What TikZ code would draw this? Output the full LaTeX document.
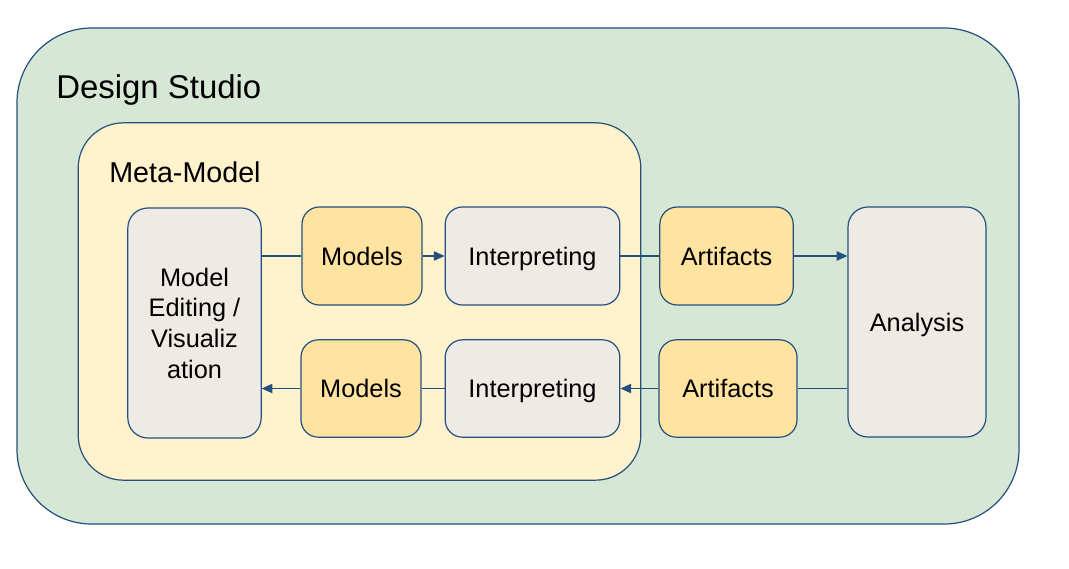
\documentclass[tikz,border=0pt]{standalone}
\usepackage{fontspec}
\setmainfont{Liberation Sans}
\usepackage{xcolor}
\usetikzlibrary{arrows.meta}
\definecolor{studiogreen}{HTML}{D6E8D5}
\definecolor{metayellow}{HTML}{FFF2CC}
\definecolor{dataorange}{HTML}{FFE3A0}
\definecolor{toolgrey}{HTML}{EEEBE4}
\definecolor{edgeblue}{HTML}{23507F}

\begin{document}
\begin{tikzpicture}[x=0.75pt,y=-0.75pt]
\tikzstyle{every node}+=[inner sep=0pt]
\tikzstyle{box}=[draw=edgeblue,line width=0.9pt,rounded corners=13pt,align=center,font=\fontsize{19}{23}\selectfont,text height=13.7pt,text depth=0pt]
\tikzstyle{tool}=[box,fill=toolgrey]
\tikzstyle{data}=[box,fill=dataorange]
\tikzstyle{link}=[draw=edgeblue,line width=0.9pt]
\tikzstyle{flow}=[link,-{Triangle[length=8pt,width=7pt]}]
\useasboundingbox (0,0) rectangle (1069,568);
% containers
\node [box,fill=studiogreen,rounded corners=56pt,minimum width=751.5pt,minimum height=372pt] (studio) at (518,276) {};
\node [box,fill=metayellow,rounded corners=34pt,minimum width=422pt,minimum height=268pt] (meta) at (359.5,301.5) {};
\node [anchor=base west,font=\fontsize{24.7}{30}\selectfont] (studiolabel) at (56,98) {Design Studio};
\node [anchor=base west,font=\fontsize{21.5}{26}\selectfont] (metalabel) at (109,182) {Meta-Model};
% blocks
\node [tool,text height=,text depth=,rounded corners=15pt,minimum width=100pt,minimum height=172.5pt] (edit) at (194.5,323) {Model\\Editing /\\Visualiz\\ation};
\node [data,minimum width=90pt,minimum height=73.5pt] (modA) at (362,256) {Models};
\node [tool,minimum width=131pt,minimum height=73.5pt] (intA) at (532.5,256) {Interpreting};
\node [data,minimum width=100pt,minimum height=73.5pt] (artA) at (726.5,256) {Artifacts};
\node [tool,rounded corners=15pt,minimum width=103.5pt,minimum height=172.5pt] (ana) at (917,322) {Analysis};
\node [data,minimum width=90pt,minimum height=73pt] (modB) at (361,388.5) {Models};
\node [tool,minimum width=131pt,minimum height=73pt] (intB) at (532.5,388.5) {Interpreting};
\node [data,minimum width=103.5pt,minimum height=73pt] (artB) at (728,388.5) {Artifacts};
% upper row
\draw [link] (edit.east |- modA.west) -- (modA.west);
\draw [flow] (modA.east) -- (intA.west);
\draw [link] (intA.east) -- (artA.west);
\draw [flow] (artA.east) -- (ana.west |- artA.east);
% lower row
\draw [link] (ana.west |- artB.east) -- (artB.east);
\draw [flow] (artB.west) -- (intB.east);
\draw [link] (intB.west) -- (modB.east);
\draw [flow] (modB.west) -- (edit.east |- modB.west);
\end{tikzpicture}
\end{document}
